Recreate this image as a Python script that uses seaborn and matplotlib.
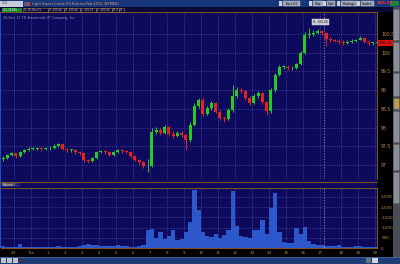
import numpy as np
import pandas as pd
import matplotlib
matplotlib.use("Agg")
import matplotlib.pyplot as plt
from matplotlib.patches import Rectangle
import seaborn as sns

# ---------------- data (15-minute bars) ----------------
first_open = 97.15
closes = [97.19, 97.27, 97.32, 97.24, 97.35, 97.40, 97.43, 97.43, 97.45, 97.43,
          97.45, 97.45, 97.51, 97.56, 97.43, 97.40, 97.40, 97.35, 97.32, 97.13,
          97.11, 97.19, 97.35, 97.37, 97.35, 97.27, 97.35, 97.40, 97.37, 97.35,
          97.24, 97.13, 97.08, 96.97, 96.97, 97.88, 97.94, 97.86, 98.02, 97.83,
          97.78, 97.86, 97.80, 97.67, 98.07, 98.58, 98.74, 98.36, 98.52, 98.66,
          98.42, 98.26, 98.23, 98.47, 98.84, 99.01, 98.98, 98.79, 98.66, 98.84,
          98.93, 98.68, 98.44, 99.01, 99.41, 99.62, 99.62, 99.59, 99.59, 99.70,
          100.00, 100.48, 100.50, 100.53, 100.58, 100.53, 100.37, 100.34, 100.32, 100.29,
          100.26, 100.29, 100.32, 100.34, 100.40, 100.29, 100.26, 100.26, 100.26]
highs = [97.24, 97.30, 97.36, 97.33, 97.38, 97.44, 97.47, 97.48, 97.49, 97.48,
         97.49, 97.50, 97.55, 97.60, 97.57, 97.45, 97.44, 97.42, 97.37, 97.33,
         97.16, 97.22, 97.38, 97.41, 97.40, 97.37, 97.38, 97.44, 97.42, 97.40,
         97.37, 97.27, 97.16, 97.10, 97.15, 97.98, 98.02, 97.98, 98.08, 98.05,
         97.90, 97.92, 97.90, 97.82, 98.15, 98.65, 98.80, 98.78, 98.58, 98.72,
         98.68, 98.46, 98.32, 98.52, 99.14, 99.08, 99.06, 99.00, 98.84, 98.90,
         98.98, 98.95, 98.72, 99.06, 99.46, 99.68, 99.68, 99.66, 99.64, 99.74,
         100.05, 100.55, 100.66, 100.60, 100.63, 100.60, 100.55, 100.42, 100.38, 100.36,
         100.33, 100.33, 100.36, 100.38, 100.45, 100.42, 100.33, 100.30, 100.30]
lows = [97.12, 97.16, 97.24, 97.20, 97.22, 97.32, 97.38, 97.39, 97.40, 97.39,
        97.40, 97.41, 97.42, 97.48, 97.40, 97.36, 97.35, 97.30, 97.28, 97.08,
        97.05, 97.08, 97.16, 97.32, 97.30, 97.23, 97.25, 97.33, 97.33, 97.31,
        97.20, 97.10, 97.04, 96.93, 96.80, 96.95, 97.84, 97.80, 97.84, 97.78,
        97.72, 97.76, 97.74, 97.40, 97.62, 98.04, 98.52, 98.30, 98.33, 98.48,
        98.38, 98.21, 98.15, 98.20, 98.42, 98.80, 98.92, 98.74, 98.60, 98.62,
        98.80, 98.64, 98.34, 98.40, 98.96, 99.38, 99.56, 99.54, 99.54, 99.56,
        99.66, 99.96, 100.40, 100.46, 100.50, 100.48, 100.18, 100.30, 100.28, 100.24,
        100.22, 100.24, 100.27, 100.30, 100.33, 100.26, 100.22, 100.22, 100.22]
volumes = [80, 60, 70, 50, 180, 60, 50, 70, 60, 50,
           60, 70, 60, 90, 70, 50, 60, 60, 80, 160,
           200, 150, 170, 120, 110, 100, 90, 150, 110, 80,
           70, 60, 90, 160, 900, 950, 500, 780, 420, 600,
           870, 400, 450, 800, 1250, 2850, 1850, 800, 600, 550,
           680, 500, 650, 900, 2800, 1100, 600, 550, 500, 870,
           870, 1370, 700, 1950, 2700, 800, 300, 250, 250, 970,
           700, 1020, 350, 200, 150, 130, 120, 90, 80, 150,
           70, 60, 70, 100, 80, 60, 50, 60, 40]

price_ticks = [97.0, 97.5, 98.0, 98.5, 99.0, 99.5, 100.0, 100.5]
price_tick_labels = ["97", "97.5", "98", "98.5", "99", "99.5", "100", "100.5"]
volume_ticks = [0, 500, 1000, 1500, 2000, 2500]
volume_tick_labels = ["0", "500", "1,000", "1,500", "2,000", "2,500"]
hour_ticks = [23, 24, 25, 26, 27, 28, 29, 30, 31, 32, 33, 34, 35, 36, 37, 38,
              39, 40, 41, 42.25, 43.27, 44.27]
hour_labels = ["23", "Tue", "1", "2", "3", "4", "5", "6", "7", "8", "9", "10",
               "11", "12", "13", "14", "15", "16", "17", "18", "19", "20"]
last_price = 100.26
session_high = 100.66
cursor_hour = 41.25

# ---------------- derived ----------------
n = len(closes)
idx = np.arange(n)
opens = np.array([first_open] + closes[:-1])
c = np.array(closes)
hi = np.maximum(np.array(highs), np.maximum(opens, c))
lo = np.minimum(np.array(lows), np.minimum(opens, c))
up = c >= opens


def hour_to_idx(h):
    return (h - 22.25) * 4 - 0.5


BG = "#0d0a5e"
GRID = "#4a4a9a"
GOLD = "#b89040"
BROWN = "#7a5224"

sns.set_style("dark")
plt.rcParams["font.family"] = ["DejaVu Sans"]

W, H = 400, 264
fig = plt.figure(figsize=(4, 2.64), dpi=100, facecolor="#000000")


def frect(x0, y0, w, h, **kw):
    fig.add_artist(Rectangle((x0 / W, 1 - (y0 + h) / H), w / W, h / H,
                             transform=fig.transFigure, **kw))


def ftext(x, y, s, **kw):
    kw.setdefault("va", "center")
    fig.text(x / W, 1 - y / H, s, **kw)


def fline(x0, x1, y, **kw):
    fig.add_artist(plt.Line2D([x0 / W, x1 / W], [1 - y / H, 1 - y / H],
                              transform=fig.transFigure, **kw))


# ---------------- header ----------------
frect(0, 0, 400, 7, fc="#16357a", ec="none")
frect(0, 0.5, 23, 6, fc="#c8ccd8", ec="none")
ftext(2, 3.5, "/CL", fontsize=2.4, color="#202020")
frect(24, 1.5, 3, 4, fc="#3060c0", ec="none")
frect(27, 1.5, 3, 4, fc="#d04020", ec="none")
ftext(32, 3.5, "Light Sweet Crude Oil Futures,Feb-2012 (NYMEX)",
      fontsize=2.5, color="#e0a070")
for x0, w, s in [(283, 17, "Bars 0.1"), (313, 10, "Tmp"), (327, 8, "Style"),
                 (341, 17, "Drawings"), (361, 13, "Studies")]:
    frect(x0 - 4, 1, 3, 5, fc="#d0d0d0", ec="none")
    frect(x0, 1, w, 5, fc="#9aa0b0", ec="#d0d0d8", lw=0.3)
    ftext(x0 + w / 2, 3.6, s, fontsize=2.0, color="#101010", ha="center")
ftext(377, 3.5, f"{last_price:.2f}", fontsize=3.0, color="#ff3030",
      fontweight="bold")
frect(390, 1, 9, 5, fc="#208040", ec="none")

frect(0, 7, 393, 5, fc="#0a0a3a", ec="none")
frect(2, 7.5, 20, 4, fc="#1a8a2a", ec="none")
ftext(3, 9.6, "/CL 15 Min", fontsize=2.0, color="white")
for x0, w, s in [(23, 25, "D: 20-Dec-11"), (48, 16, "O: 100.26"),
                 (64, 16, "H: 100.26"), (80, 16, "L: 100.26"),
                 (96, 16, "C: 100.26"), (112, 7, "R: 0"), (119, 5, "V:")]:
    frect(x0, 7.5, w, 4, fc="none", ec="#9a7040", lw=0.4)
    ftext(x0 + 1, 9.6, s, fontsize=1.9, color="#c8c8c8")

# right sidebar
frect(393, 7, 7, 250, fc="#4a4c56", ec="none")
for y0, h in [(10, 30), (43, 28), (74, 22), (99, 10), (112, 30), (145, 25),
              (173, 30)]:
    frect(394, y0, 5, h, fc="#8a8c96", ec="#a8aab2", lw=0.3)
frect(394.5, 99, 4, 9, fc="#c8a030", ec="none")

# ---------------- price panel ----------------
ax = fig.add_axes([1 / W, 1 - 179 / H, 376 / W, 167 / H])
ax.set_facecolor(BG)
colors = np.where(up, "#22cc22", "#e82020")
ax.vlines(idx, lo, hi, colors=colors, lw=0.7, zorder=3)
body = np.maximum(np.abs(c - opens), 0.015)
ax.bar(idx, body, bottom=np.minimum(opens, c), width=0.7, color=colors,
       edgecolor="none", zorder=4)
ax.set_xlim(-0.5, 87.97)
ax.set_ylim(96.626, 101.09)
ax.set_xticks([hour_to_idx(h) for h in hour_ticks])
ax.set_xticklabels([])
ax.set_yticks(price_ticks)
ax.set_yticklabels(price_tick_labels)
ax.yaxis.tick_right()
ax.tick_params(axis="y", colors=GOLD, labelsize=3.3, length=0, pad=3)
ax.tick_params(axis="x", length=0)
ax.grid(True, color=GRID, ls=(0, (1.5, 1.5)), lw=0.5)
ax.spines["left"].set_visible(False)
for s in ["top", "right", "bottom"]:
    ax.spines[s].set_color(BROWN)
    ax.spines[s].set_linewidth(0.8)
ax.axvline(hour_to_idx(cursor_hour), color="#a8a8c0", ls=(0, (2, 2)), lw=0.5,
           zorder=5)
ax.annotate(f"H: {session_high:.2f}", xy=(hour_to_idx(41.05), 100.83),
            fontsize=2.2, color="#202020", ha="center", va="center",
            bbox=dict(boxstyle="square,pad=0.3", fc="#c8c8d0", ec="#e0e0e0",
                      lw=0.3), zorder=6)
ax.annotate(f"{last_price:.2f}", xy=(1, last_price),
            xycoords=("axes fraction", "data"), xytext=(1.2, 0),
            textcoords="offset points", fontsize=2.8, color="#101010",
            ha="left", va="center", annotation_clip=False,
            bbox=dict(boxstyle="square,pad=0.25", fc="#e01010", ec="none"))
ax.text(0.004, 0.975, "20-Dec-11 TD Ameritrade IP Company, Inc.",
        transform=ax.transAxes, fontsize=2.4, color="#9090b0", va="top")

# between panels
frect(0, 179, 377, 8.5, fc=BG, ec="none")
fline(0, 377, 181.5, color=BROWN, lw=0.8)
frect(2, 182.6, 13, 3.8, fc="#50505e", ec="#8080a0", lw=0.3)
ftext(8.5, 184.5, "Volume", fontsize=2.1, color="#e0e0e0", ha="center")
frect(15.5, 182.6, 3, 3.8, fc="none", ec="#8080a0", lw=0.3)

# ---------------- volume panel ----------------
axv = fig.add_axes([1 / W, 1 - 248 / H, 376 / W, 60.5 / H])
axv.set_facecolor(BG)
vdf = pd.DataFrame({"bar": idx, "volume": volumes})
sns.barplot(data=vdf, x="bar", y="volume", native_scale=True, width=1.0,
            color="#2c58cc", saturation=1, errorbar=None, ax=axv,
            edgecolor="none", linewidth=0)
axv.set_xlim(-0.5, 87.97)
axv.set_ylim(0, 2958)
axv.set_xlabel("")
axv.set_ylabel("")
axv.set_xticks([hour_to_idx(h) for h in hour_ticks])
axv.set_xticklabels(hour_labels)
axv.set_yticks(volume_ticks)
axv.set_yticklabels(volume_tick_labels)
axv.yaxis.tick_right()
axv.tick_params(axis="y", colors=GOLD, labelsize=3.0, length=0, pad=3)
axv.tick_params(axis="x", colors=GOLD, labelsize=3.0, length=0, pad=2)
axv.grid(True, color=GRID, ls=(0, (1.5, 1.5)), lw=0.5)
axv.set_axisbelow(False)
axv.spines["left"].set_visible(False)
for s in ["top", "right", "bottom"]:
    axv.spines[s].set_color(BROWN)
    axv.spines[s].set_linewidth(0.8)
axv.axvline(hour_to_idx(cursor_hour), color="#a8a8c0", ls=(0, (2, 2)), lw=0.5,
            zorder=5)
for b in axv.patches:
    b.set_zorder(3)

# left blue edge and bottom strip
frect(0, 12, 1, 236, fc="#2050c0", ec="none")
frect(0, 257, 400, 7, fc="#1e3c78", ec="none")
fline(0, 400, 257.3, color="#5070b0", lw=0.5)
for x0 in [1, 7, 13]:
    frect(x0, 258, 5, 5, fc="#c0c4cc", ec="none")
frect(19, 258, 4, 5, fc="#303848", ec="none")
frect(366, 258, 5, 5, fc="#6a7080", ec="none")
frect(372, 258, 6, 5, fc="#d0d4dc", ec="none")

fig.savefig("out.png", dpi=100, facecolor=fig.get_facecolor())
